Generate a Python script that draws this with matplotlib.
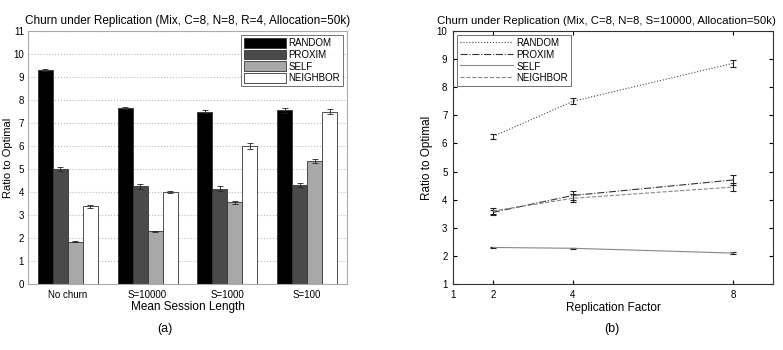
import numpy as np
import matplotlib
matplotlib.use("Agg")
import matplotlib.pyplot as plt
from matplotlib.lines import Line2D

plt.rcParams['font.family'] = ['Liberation Sans', 'DejaVu Sans']
plt.rcParams['font.size'] = 7

# (a) bar chart
groups = ['No churn', 'S=10000', 'S=1000', 'S=100']
series = ['RANDOM', 'PROXIM', 'SELF', 'NEIGHBOR']
random_v = [9.3, 7.65, 7.5, 7.55]
proxim_v = [5.0, 4.25, 4.15, 4.3]
self_v = [1.83, 2.3, 3.55, 5.35]
neighbor_v = [3.38, 4.0, 6.0, 7.5]
random_e = [0.04, 0.05, 0.08, 0.1]
proxim_e = [0.08, 0.1, 0.1, 0.1]
self_e = [0.02, 0.02, 0.06, 0.08]
neighbor_e = [0.06, 0.06, 0.12, 0.12]

# (b) line chart
repl = [2, 4, 8]
random_l = [6.25, 7.5, 8.85]
proxim_l = [3.55, 4.15, 4.7]
self_l = [2.3, 2.27, 2.1]
neighbor_l = [3.6, 4.05, 4.45]
random_le = [0.08, 0.1, 0.13]
proxim_le = [0.1, 0.15, 0.17]
self_le = [0.03, 0.02, 0.03]
neighbor_le = [0.12, 0.15, 0.13]

fig = plt.figure(figsize=(7.83, 3.5), dpi=100)
W, H = 783, 350

def px(l, t, r, b):
    return [l / W, 1 - b / H, (r - l) / W, (b - t) / H]

ax1 = fig.add_axes(px(28, 31, 347, 284))
x = np.arange(1, 5)
bw = 0.1875
colors = ['#000000', '#4a4a4a', '#a8a8a8', '#ffffff']
vals = [random_v, proxim_v, self_v, neighbor_v]
errs = [random_e, proxim_e, self_e, neighbor_e]
for i in range(4):
    pos = x + (i - 1.5) * bw
    ax1.bar(pos, vals[i], bw, color=colors[i], edgecolor='#333333', linewidth=0.6,
            label=series[i], zorder=2)
    ax1.errorbar(pos, vals[i], yerr=errs[i], fmt='none', ecolor='#222222',
                 elinewidth=0.6, capsize=2, capthick=0.6, zorder=3)
ax1.set_xlim(0.5, 4.5)
ax1.set_ylim(0, 11)
ax1.set_yticks(range(0, 12))
ax1.set_xticks(x)
ax1.set_xticklabels(groups)
ax1.yaxis.grid(True, linestyle=':', color='#bbbbbb', linewidth=0.8, zorder=0)
ax1.set_axisbelow(True)
ax1.tick_params(axis='x', length=0, labelsize=7, pad=4)
ax1.tick_params(axis='y', length=0, labelsize=7, pad=3)
for s in ax1.spines.values():
    s.set_color('#aaaaaa')
    s.set_linewidth(0.8)
ax1.set_title('Churn under Replication (Mix, C=8, N=8, R=4, Allocation=50k)', fontsize=8.5, pad=5)
ax1.set_xlabel('Mean Session Length', fontsize=8.5, labelpad=1)
ax1.set_ylabel('Ratio to Optimal', fontsize=8, labelpad=0)
leg1 = ax1.legend(loc='upper right', fontsize=7, frameon=True, fancybox=False,
                  edgecolor='#333333', borderaxespad=0.4, handlelength=4.3,
                  handleheight=1.2, labelspacing=0.15, borderpad=0.3, handletextpad=0.3)
leg1.get_frame().set_linewidth(0.6)

ax2 = fig.add_axes(px(453, 31, 773, 284))
lines = [random_l, proxim_l, self_l, neighbor_l]
lerrs = [random_le, proxim_le, self_le, neighbor_le]
styles = [':', '-.', '-', '--']
lcolors = ['#444444', '#333333', '#888888', '#888888']
for i in range(4):
    ax2.errorbar(repl, lines[i], yerr=lerrs[i], linestyle=styles[i], color=lcolors[i],
                 linewidth=0.8, ecolor='#222222', elinewidth=0.8, capsize=2,
                 capthick=0.8)
ax2.set_xlim(1, 9)
ax2.set_ylim(1, 10)
ax2.set_xticks([1, 2, 4, 8])
ax2.set_yticks(range(1, 11))
ax2.tick_params(direction='in', length=3, top=True, right=True, labelsize=7, pad=4)
for s in ax2.spines.values():
    s.set_color('#333333')
    s.set_linewidth(0.8)
ax2.set_title('Churn under Replication (Mix, C=8, N=8, S=10000, Allocation=50k)',
              fontsize=8.2, pad=5, loc='left', x=-0.05)
ax2.set_xlabel('Replication Factor', fontsize=8.5, labelpad=2)
ax2.set_ylabel('Ratio to Optimal', fontsize=8.5, labelpad=3)
handles = [Line2D([], [], linestyle=styles[i], color=lcolors[i], linewidth=0.8)
           for i in range(4)]
leg2 = ax2.legend(handles, series, loc='upper left', fontsize=7, frameon=True,
                  fancybox=False, edgecolor='#333333', borderaxespad=0.4,
                  handlelength=5.5, handleheight=1.2, labelspacing=0.15,
                  borderpad=0.3, handletextpad=0.3)
leg2.get_frame().set_linewidth(0.6)

fig.text(165 / W, 1 - 329 / H, '(a)', ha='center', va='center', fontsize=9)
fig.text(612 / W, 1 - 329 / H, '(b)', ha='center', va='center', fontsize=9)

fig.savefig('out.png', dpi=100)
